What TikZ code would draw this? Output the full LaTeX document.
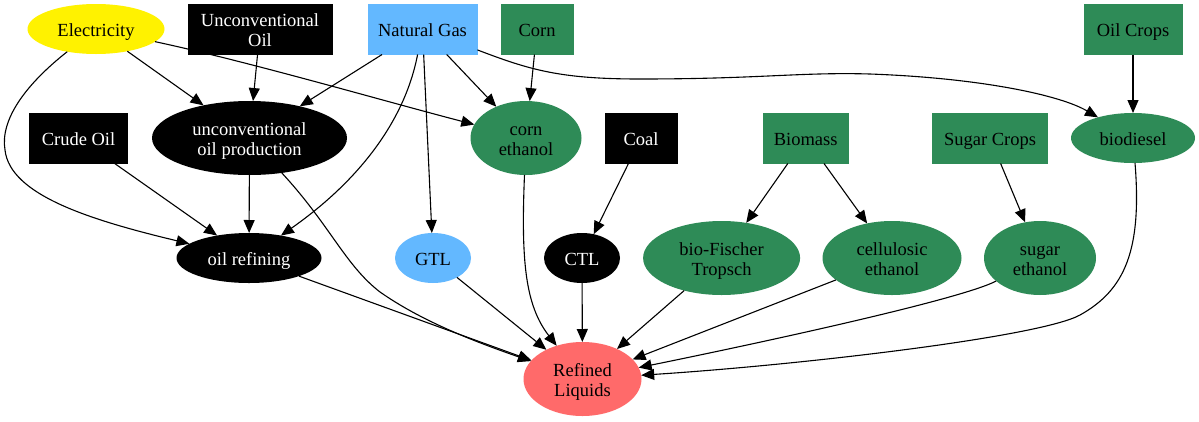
\documentclass[tikz,border=0pt]{standalone}
\usepackage{fontspec}
\setmainfont{Liberation Serif}
\usetikzlibrary{shapes.geometric,arrows.meta}
\definecolor{sg}{HTML}{2E8B57}
\definecolor{sb}{HTML}{63B8FF}
\definecolor{ir}{HTML}{FF6A6A}
\newcommand\nt[1]{\raisebox{-3.75pt}[\height][\depth]{\begin{tabular}{@{}c@{}}#1\end{tabular}}}
\begin{document}
\begin{tikzpicture}[x=1pt,y=-1pt,
  every node/.style={font=\fontsize{18.5}{20}\selectfont, inner sep=0pt, outer sep=0pt},
  box/.style={rectangle, minimum width=#1, minimum height=51pt},
  ell/.style 2 args={ellipse, minimum width=#1, minimum height=#2},
  blk/.style={fill=black, text=white},
  grn/.style={fill=sg, text=black},
  blu/.style={fill=sb, text=black},
  edge/.style={draw, line width=1.1pt, -{Triangle[length=13pt,width=11pt]}}
]
\fill[white] (0,0) rectangle (1199,421);
\useasboundingbox (0,0) rectangle (1199,421);

% rank 1
\node[ell={137pt}{50pt}, fill=yellow] (elec) at (96,29) {\nt{Electricity}};
\node[box=145pt, blk] (uo) at (260,29) {\nt{Unconventional\\Oil}};
\node[box=110pt, blu] (ng) at (422.5,29) {\nt{Natural Gas}};
\node[box=73pt, grn] (corn) at (537,29) {\nt{Corn}};
\node[box=99pt, grn] (oc) at (1133,29) {\nt{Oil Crops}};
% rank 2
\node[box=99pt, blk] (crude) at (78.5,138) {\nt{Crude Oil}};
\node[ell={195pt}{74pt}, blk] (uop) at (249.5,138) {\nt{unconventional\\oil production}};
\node[ell={111pt}{74pt}, grn] (ce) at (526,138) {\nt{corn\\ethanol}};
\node[box=73pt, blk] (coal) at (641,138) {\nt{Coal}};
\node[box=86pt, grn] (bio) at (805.7,138) {\nt{Biomass}};
\node[box=116pt, grn] (sc) at (990,138) {\nt{Sugar Crops}};
\node[ell={124pt}{50pt}, grn] (bd) at (1133,138) {\nt{biodiesel}};
% rank 3
\node[ell={145pt}{50pt}, blk] (orf) at (249,258) {\nt{oil refining}};
\node[ell={76pt}{50pt}, blu] (gtl) at (433,258) {\nt{GTL}};
\node[ell={76pt}{50pt}, blk] (ctl) at (582,258) {\nt{CTL}};
\node[ell={157pt}{74pt}, grn] (bft) at (721.6,258) {\nt{bio-Fischer\\Tropsch}};
\node[ell={139pt}{74pt}, grn] (cel) at (892,258) {\nt{cellulosic\\ethanol}};
\node[ell={112pt}{74pt}, grn] (se) at (1040,258) {\nt{sugar\\ethanol}};
% rank 4
\node[ell={118pt}{74pt}, fill=ir] (rl) at (582.5,379) {\nt{Refined\\Liquids}};

% edges
\draw[edge] (elec) -- (uop);
\draw[edge] (elec) .. controls (250,62) and (380,100) .. (ce);
\draw[edge] (elec) .. controls (25,85) and (0,120) .. (5,150) .. controls (10,195) and (90,220) .. (orf);
\draw[edge] (uo) -- (uop);
\draw[edge] (ng) -- (uop);
\draw[edge] (ng) -- (ce);
\draw[edge] (ng) -- (gtl);
\draw[edge] (ng) .. controls (405,120) and (360,180) .. (orf);
\draw[edge] (ng) .. controls (530,70) and (560,79) .. (640,79) .. controls (760,79) and (800,72) .. (870,74) .. controls (980,78) and (1060,95) .. (bd);
\draw[edge] (corn) -- (ce);
\draw[edge] (oc) -- (bd);
\draw[edge] (crude) -- (orf);
\draw[edge] (uop) -- (orf);
\draw[edge] (uop) .. controls (330,225) and (345,265) .. (380,292) .. controls (420,320) and (470,340) .. (rl);
\draw[edge] (ce) .. controls (521,260) and (525,305) .. (rl);
\draw[edge] (coal) -- (ctl);
\draw[edge] (bio) -- (bft);
\draw[edge] (bio) -- (cel);
\draw[edge] (sc) -- (se);
\draw[edge] (orf) -- (rl);
\draw[edge] (gtl) -- (rl);
\draw[edge] (ctl) -- (rl);
\draw[edge] (bft) -- (rl);
\draw[edge] (cel) -- (rl);
\draw[edge] (se) .. controls (960,300) and (750,345) .. (rl);
\draw[edge] (bd) .. controls (1142,250) and (1125,290) .. (1080,315) .. controls (1040,337) and (800,365) .. (rl);
\end{tikzpicture}
\end{document}
